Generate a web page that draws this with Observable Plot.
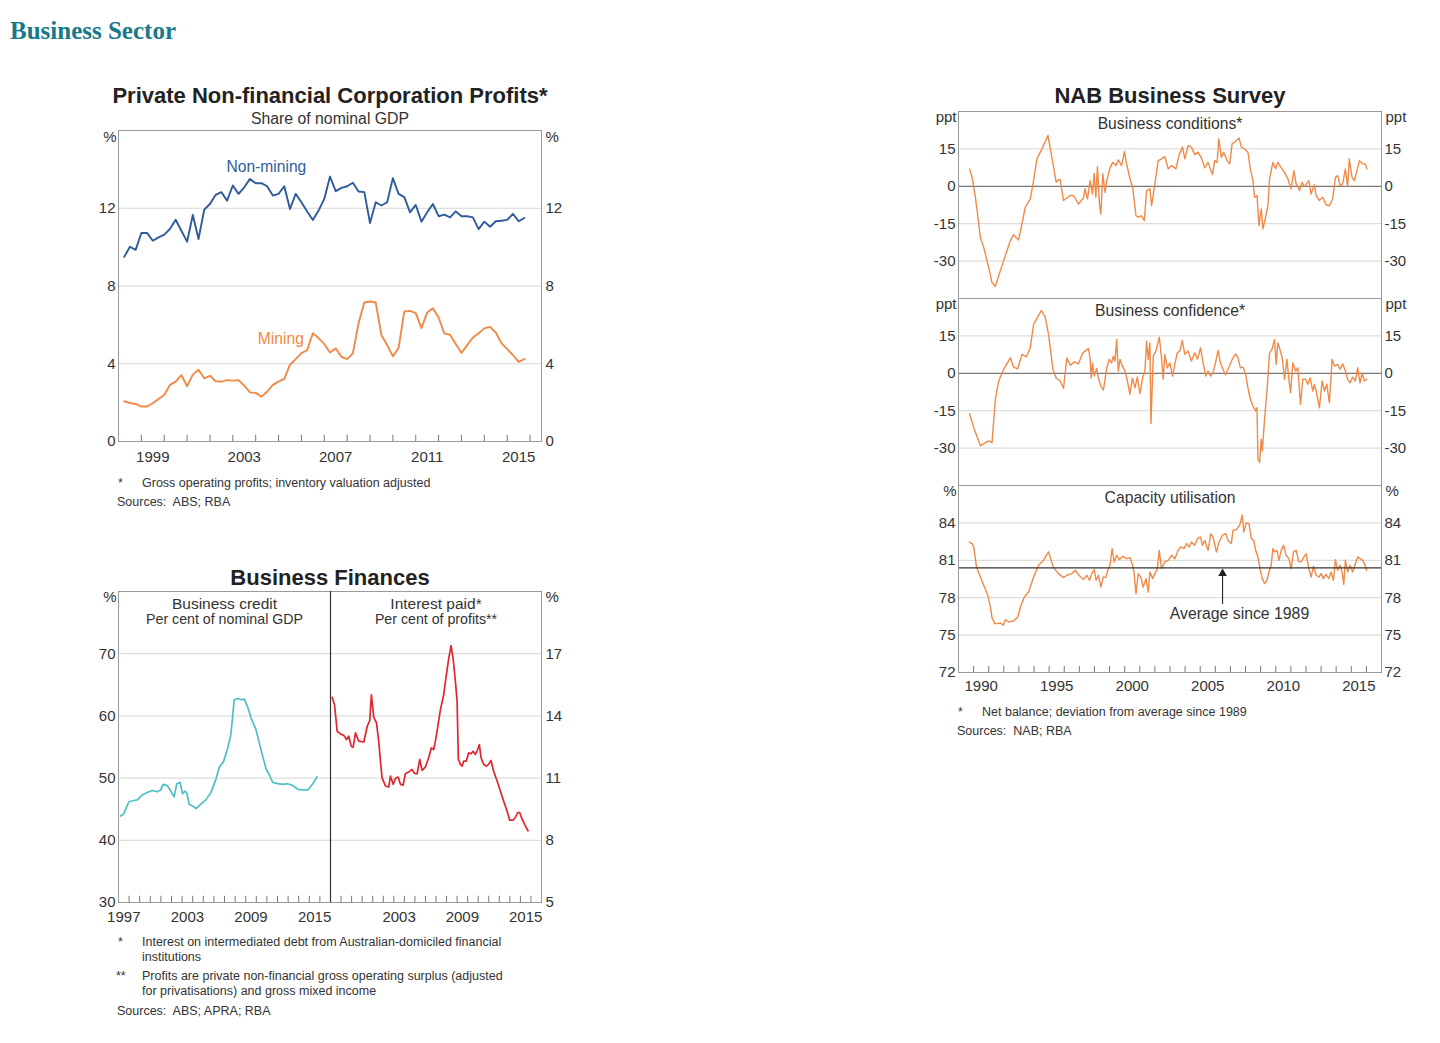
<!DOCTYPE html>
<html><head><meta charset="utf-8">
<script src="https://cdn.jsdelivr.net/npm/d3@7"></script>
<script src="https://cdn.jsdelivr.net/npm/@observablehq/plot@0.6"></script>
<style>
body{margin:0;background:#fff;width:1440px;height:1043px;position:relative;overflow:hidden;font-family:"Liberation Sans",Arial,sans-serif;color:#222;}
.abs{position:absolute;white-space:pre;line-height:1;}
.ttl{font-weight:bold;font-size:22px;text-align:center;width:600px;color:#222;}
.sub{font-size:15.8px;text-align:center;width:600px;color:#333;}
.note{font-size:12.5px;color:#333;line-height:14px;}
</style></head><body>
<div class="abs" style="left:10px;top:18px;font-family:'Liberation Serif',serif;font-weight:bold;font-size:25px;color:#17798a">Business Sector</div>
<div class="abs ttl" style="left:30px;top:85px">Private Non-financial Corporation Profits*</div>
<div class="abs sub" style="left:30px;top:111px">Share of nominal GDP</div>
<div class="abs ttl" style="left:30px;top:567px">Business Finances</div>
<div class="abs ttl" style="left:870px;top:85px">NAB Business Survey</div>
<script>
// ---------- DATA ----------
// Chart 1: quarterly, 1998 Q1 – 2015 Q3
const profitNonMining = [9.50,10.02,9.86,10.73,10.73,10.33,10.5,10.64,10.93,11.41,10.84,10.28,11.65,10.42,11.93,12.22,12.69,12.83,12.39,13.17,12.74,13.08,13.51,13.29,13.29,13.13,12.65,12.74,13.13,11.96,12.74,12.31,11.83,11.40,11.88,12.48,13.63,12.88,13.05,13.13,13.31,12.86,12.83,11.24,12.31,12.14,12.31,13.55,12.74,12.57,11.79,12.17,11.31,11.79,12.22,11.59,11.67,11.53,11.84,11.59,11.59,11.53,10.93,11.31,11.05,11.33,11.36,11.40,11.71,11.33,11.50];
const profitMining = [2.07,1.98,1.93,1.80,1.80,1.97,2.19,2.39,2.91,3.08,3.42,2.84,3.44,3.69,3.25,3.38,3.10,3.08,3.16,3.13,3.16,2.87,2.53,2.50,2.31,2.56,2.91,3.08,3.22,3.95,4.24,4.55,4.70,5.57,5.32,5.01,4.58,4.79,4.36,4.24,4.53,6.09,7.15,7.20,7.15,5.47,4.96,4.38,4.81,6.69,6.72,6.60,5.83,6.64,6.86,6.38,5.56,5.49,5.01,4.55,4.96,5.35,5.57,5.82,5.90,5.61,5.06,4.75,4.45,4.10,4.24];
const profitQuarters = profitMining.map((_, i) => 1998.25 + 0.25 * i);
const profitYearLabels = [1999, 2003, 2007, 2011, 2015];
const profitYTicks = [0, 4, 8, 12];

// Chart 2: business credit (% of GDP)
const creditYears = [1997.19,1997.50,1997.98,1998.45,1998.77,1999.24,1999.72,2000.19,2000.66,2000.98,2001.20,2001.62,2002.10,2002.25,2002.50,2002.81,2003.04,2003.26,2003.45,2003.67,2004.09,2004.30,2004.77,2005.24,2005.72,2006.19,2006.50,2006.92,2007.30,2007.61,2007.80,2007.92,2008.24,2008.60,2008.87,2009.19,2009.50,2009.97,2010.45,2010.92,2011.23,2011.55,2012.03,2012.50,2012.97,2013.45,2013.92,2014.40,2014.87,2015.34,2015.66,2015.75];
const creditValues = [43.9,44.3,46.2,46.4,46.5,47.3,47.7,48.0,47.8,48.1,49.0,48.8,47.4,47.0,49.1,49.3,47.5,47.9,47.6,45.8,45.4,45.1,45.8,46.5,47.7,49.8,51.7,52.7,54.8,57.1,60.5,62.6,62.8,62.6,62.7,61.4,59.7,57.8,54.5,51.5,50.5,49.3,49.1,49.0,49.1,48.8,48.2,48.1,48.1,49.1,50.0,50.2];
// Chart 2: interest paid (% of profits)
const interestYears = [1997.16,1997.38,1997.63,1997.95,1998.26,1998.52,1998.73,1998.96,1999.15,1999.37,1999.68,2000.16,2000.48,2000.72,2000.88,2001.10,2001.36,2001.57,2001.73,2001.89,2002.21,2002.52,2002.68,2002.94,2003.16,2003.41,2003.63,2003.88,2004.10,2004.42,2004.73,2004.95,2005.21,2005.46,2005.68,2005.99,2006.31,2006.56,2006.78,2006.94,2007.10,2007.42,2007.73,2007.98,2008.21,2008.43,2008.62,2008.84,2009.00,2009.12,2009.31,2009.47,2009.63,2009.88,2010.10,2010.32,2010.51,2010.73,2010.95,2011.11,2011.27,2011.52,2011.77,2011.99,2012.21,2012.46,2012.79,2013.10,2013.41,2013.73,2013.98,2014.30,2014.52,2014.74,2014.93,2015.16,2015.47,2015.72];
const interestValues = [14.89,14.54,13.26,13.13,13.06,12.86,13.02,12.54,12.49,13.18,12.78,12.74,13.50,13.77,15.02,13.93,13.66,12.78,11.82,11.02,10.62,10.57,11.10,10.70,10.99,11.05,10.70,10.66,11.21,11.30,11.42,11.23,11.21,11.90,11.37,11.53,11.98,12.46,12.38,12.78,13.26,14.30,15.02,15.98,16.78,17.39,16.78,15.66,14.70,11.90,11.66,11.58,11.82,11.82,12.22,12.17,12.30,12.14,12.38,12.62,11.98,11.66,11.58,11.66,11.85,11.34,10.86,10.38,9.90,9.42,8.97,8.97,9.10,9.34,9.34,9.02,8.70,8.46];
const creditYTicks = [30, 40, 50, 60, 70];
const interestYTicks = [5, 8, 11, 14, 17];
const financeLabelsLeft = [1997, 2003, 2009, 2015];
const financeLabelsRight = [2003, 2009, 2015];

// Chart 3: NAB survey
const condYears = [1989.73,1989.90,1990.12,1990.45,1990.67,1991.00,1991.22,1991.44,1991.66,1991.99,1992.43,1992.65,1992.83,1992.98,1993.20,1993.42,1993.75,1993.97,1994.19,1994.52,1994.92,1995.18,1995.47,1995.62,1995.73,1995.95,1996.39,1996.61,1996.94,1997.27,1997.38,1997.54,1997.71,1997.87,1997.98,1998.09,1998.20,1998.33,1998.42,1998.55,1998.70,1998.81,1999.03,1999.21,1999.43,1999.58,1999.80,1999.98,2000.13,2000.35,2000.53,2000.75,2000.90,2001.12,2001.30,2001.45,2001.67,2001.78,2002.00,2002.22,2002.44,2002.66,2002.88,2003.10,2003.39,2003.61,2003.83,2003.98,2004.20,2004.42,2004.64,2004.86,2005.08,2005.30,2005.52,2005.81,2005.96,2006.12,2006.23,2006.40,2006.56,2006.78,2006.95,2007.11,2007.28,2007.57,2007.72,2007.94,2008.16,2008.32,2008.49,2008.60,2008.76,2008.89,2009.04,2009.15,2009.33,2009.48,2009.59,2009.81,2009.99,2010.14,2010.36,2010.58,2010.80,2011.02,2011.20,2011.35,2011.57,2011.75,2011.90,2012.19,2012.34,2012.56,2012.67,2012.89,2013.11,2013.33,2013.55,2013.77,2013.95,2014.10,2014.26,2014.43,2014.61,2014.76,2014.87,2015.05,2015.20,2015.38,2015.54,2015.75,2015.93,2016.04];
const condValues = [7.0,3.6,-4.4,-20.5,-24.5,-32.5,-38.6,-40.2,-35.9,-29.8,-21.8,-19.4,-20.7,-21.5,-15.1,-8.4,-5.1,2.3,11.0,15.0,20.4,11.6,1.6,2.6,2.7,-5.7,-3.7,-3.7,-7.1,-4.7,-1.0,-5.1,2.3,-3.1,5.2,-4.4,7.9,-7.1,-11.1,5.0,-2.4,2.3,7.4,9.6,8.3,10.6,8.3,13.9,9.0,3.0,-0.4,-11.8,-12.4,-11.8,-13.8,-1.7,-1.0,-7.8,1.0,10.3,11.0,11.9,7.0,8.3,7.0,12.7,15.7,11.0,16.3,15.7,12.7,13.7,11.4,7.4,9.6,4.7,10.3,9.6,19.0,11.6,13.7,10.3,9.0,17.0,17.7,19.4,15.7,15.0,13.7,7.0,2.3,-4.4,-3.7,-15.8,-9.1,-17.1,-12.4,-7.8,3.0,9.6,7.0,9.6,7.4,5.6,3.0,-1.0,6.3,1.0,-1.7,1.6,-0.1,2.3,-3.1,0.7,-3.7,-5.7,-4.4,-7.4,-7.8,-5.1,3.6,4.3,0.3,1.0,7.0,-0.1,11.0,3.6,2.3,6.3,10.3,9.0,9.0,7.0];
const confYears = [1989.73,1990.01,1990.45,1990.78,1991.00,1991.22,1991.44,1991.66,1991.99,1992.43,1992.65,1992.92,1993.20,1993.49,1993.75,1993.97,1994.48,1994.74,1994.96,1995.25,1995.47,1995.73,1995.95,1996.17,1996.39,1996.68,1996.94,1997.23,1997.60,1997.71,1997.78,1997.87,1997.98,1998.15,1998.26,1998.42,1998.59,1998.81,1998.99,1999.14,1999.25,1999.36,1999.47,1999.58,1999.69,1999.80,2000.02,2000.18,2000.35,2000.51,2000.68,2000.84,2001.01,2001.19,2001.34,2001.45,2001.56,2001.67,2001.74,2001.89,2002.07,2002.29,2002.44,2002.55,2002.66,2002.82,2002.99,2003.17,2003.32,2003.48,2003.65,2003.81,2003.98,2004.20,2004.42,2004.64,2004.82,2005.02,2005.19,2005.37,2005.52,2005.68,2005.85,2006.01,2006.18,2006.34,2006.51,2006.67,2006.84,2007.02,2007.17,2007.35,2007.50,2007.66,2007.83,2008.01,2008.16,2008.32,2008.49,2008.67,2008.76,2008.82,2008.93,2009.04,2009.11,2009.26,2009.42,2009.59,2009.75,2009.92,2010.03,2010.14,2010.25,2010.43,2010.58,2010.74,2010.87,2010.98,2011.13,2011.31,2011.46,2011.64,2011.79,2011.97,2012.12,2012.28,2012.45,2012.56,2012.72,2012.89,2013.07,2013.22,2013.38,2013.55,2013.73,2013.88,2014.10,2014.26,2014.43,2014.61,2014.76,2014.92,2015.09,2015.27,2015.42,2015.58,2015.71,2015.87,2016.02];
const confValues = [-16.2,-21.8,-29.1,-27.8,-27.1,-27.8,-10.4,-3.1,1.6,6.2,2.5,1.8,7.6,6.6,10.2,19.6,25.2,22.5,15.6,1.6,-2.0,-3.1,-6.0,6.2,3.3,4.6,3.8,8.2,10.0,6.2,-2.0,4.2,-1.1,2.0,-2.0,-5.1,-6.8,2.2,5.6,4.2,6.9,4.9,13.6,0.9,5.6,3.6,0.9,-3.1,-8.4,-2.0,-5.8,-1.5,-8.2,-1.8,0.9,12.9,5.6,12.2,-20.2,6.9,8.9,14.5,6.2,-2.4,7.6,2.2,4.2,-1.1,3.6,8.2,8.9,13.2,7.6,8.9,4.9,8.2,5.6,10.2,4.2,-1.1,0.9,-1.1,0.2,4.2,9.2,4.2,1.6,-0.7,1.6,4.2,6.2,7.8,6.2,2.2,2.5,-0.4,-5.9,-10.4,-13.1,-15.1,-13.8,-34.4,-35.8,-26.4,-31.1,-18.4,-7.1,8.2,9.6,13.6,3.6,12.2,10.2,6.2,-2.4,5.6,-2.4,-7.8,4.2,0.9,2.2,-12.4,-2.4,-2.4,-4.4,-1.8,-7.1,-4.4,-8.4,-13.8,-3.1,-7.1,-4.4,-11.8,5.6,2.9,3.6,1.6,3.8,0.9,-2.4,-3.8,-1.5,-3.1,2.2,-3.8,0.0,-3.1,-2.4];
const capYears = [1989.73,1989.90,1990.01,1990.19,1990.45,1990.72,1990.94,1991.11,1991.22,1991.40,1991.55,1991.77,1991.95,1992.10,1992.32,1992.65,1992.92,1993.14,1993.36,1993.64,1993.97,1994.30,1994.63,1994.81,1994.96,1995.29,1995.62,1995.95,1996.17,1996.50,1996.72,1996.94,1997.27,1997.49,1997.67,1997.82,1997.98,1998.11,1998.26,1998.42,1998.59,1998.75,1998.88,1999.03,1999.17,1999.30,1999.47,1999.65,1999.87,2000.13,2000.35,2000.49,2000.62,2000.75,2000.90,2001.06,2001.23,2001.41,2001.56,2001.67,2001.85,2002.00,2002.16,2002.29,2002.44,2002.66,2002.88,2003.10,2003.32,2003.54,2003.72,2003.92,2004.09,2004.27,2004.42,2004.64,2004.82,2005.02,2005.15,2005.30,2005.52,2005.70,2005.85,2006.07,2006.25,2006.47,2006.69,2006.84,2007.06,2007.17,2007.39,2007.61,2007.79,2007.88,2008.05,2008.23,2008.38,2008.54,2008.67,2008.82,2008.98,2009.11,2009.26,2009.42,2009.55,2009.70,2009.81,2009.92,2010.08,2010.21,2010.36,2010.52,2010.69,2010.87,2011.02,2011.18,2011.35,2011.53,2011.68,2011.84,2012.01,2012.19,2012.34,2012.50,2012.67,2012.85,2013.00,2013.16,2013.33,2013.51,2013.66,2013.82,2013.95,2014.10,2014.26,2014.39,2014.50,2014.61,2014.76,2014.92,2015.09,2015.27,2015.42,2015.58,2015.75,2015.87,2016.02];
const capValues = [82.47,82.34,82.07,80.47,79.66,78.86,78.19,77.26,76.40,75.92,75.92,75.97,75.79,76.24,76.05,76.13,76.45,77.39,78.06,78.46,79.66,80.60,81.0,81.40,81.67,80.41,79.93,79.61,79.80,79.93,80.20,79.85,79.45,79.80,79.40,79.93,80.25,79.40,79.80,78.86,79.66,79.61,80.20,80.60,81.94,80.87,81.40,81.05,81.32,81.13,81.21,80.73,80.06,78.33,79.93,79.66,78.86,79.53,78.46,80.06,79.53,79.93,80.33,81.80,80.33,80.87,81.0,81.40,81.13,81.80,82.07,81.94,82.34,82.07,82.47,82.20,82.74,82.87,82.20,82.60,81.80,83.14,82.87,81.67,82.47,83.01,83.14,82.60,82.34,83.41,83.46,83.81,84.61,83.27,83.99,83.94,82.74,82.60,81.80,81.27,80.20,79.53,79.13,79.40,80.06,80.60,81.94,81.67,81.80,81.0,81.80,82.20,81.40,81.13,80.33,81.67,81.80,80.87,80.87,81.21,81.53,80.33,79.66,80.52,79.80,79.66,79.93,79.53,79.88,79.53,80.06,79.40,81.05,80.20,80.60,80.06,79.07,81.0,80.06,80.60,80.06,80.73,81.27,81.13,81.0,80.73,80.20];
const capAverage = 80.4;
const balanceYTicks = [-30, -15, 0, 15];
const capYTicks = [72, 75, 78, 81, 84];
const nabYearLabels = [1990, 1995, 2000, 2005, 2010, 2015];

// ---------- STYLE ----------
const FONT = "'Liberation Sans', Arial, sans-serif";
const BLUE = "#2f5b9b", ORANGE = "#f08a48", TEAL = "#4fbfc6", RED = "#e0262f";
const FRAME = "#9a9a9a", GRID = "#d6d6d6", TXT = "#333";
const TICKFONT = 15;
const style = {background: "transparent", fontFamily: FONT, fontSize: "15px", color: TXT, overflow: "visible"};

function mount(svg, left, top) {
  svg.style.position = "absolute";
  svg.style.left = left + "px";
  svg.style.top = top + "px";
  document.body.appendChild(svg);
}
function note(x, y, text) {
  const d = document.createElement("div");
  d.className = "abs note";
  d.style.left = x + "px";
  d.style.top = (y - 7) + "px";
  d.textContent = text;
  document.body.appendChild(d);
}
const unitText = (t, side, dy) => Plot.text([t], {
  text: d => d, frameAnchor: side === "left" ? "top-left" : "top-right", lineAnchor: "middle",
  textAnchor: side === "left" ? "end" : "start", dx: side === "left" ? -2 : 4, dy, fontSize: TICKFONT, fill: TXT
});
const panelTitle = (t, dy, size) => Plot.text([t], {text: d => d, frameAnchor: "top", lineAnchor: "middle", dy, fontSize: size, fill: TXT});
const yLabels = (ticks, side, pad) => Plot.axisY(ticks, {anchor: side, tickSize: 0, tickPadding: pad, label: null, fontSize: TICKFONT, tickFormat: d => String(d)});
const xLabels = (years, dy) => Plot.text(years, {x: d => d + 0.5, text: d => String(d), frameAnchor: "bottom", lineAnchor: "middle", dy, fontSize: TICKFONT, fill: TXT});

// ---------- CHART 1 ----------
const profitTable = profitQuarters.map((t, i) => ({t, nm: profitNonMining[i], m: profitMining[i]}));
mount(Plot.plot({
  width: 540, height: 360, marginLeft: 58, marginRight: 59, marginTop: 8, marginBottom: 41,
  style,
  x: {domain: [1998, 2016.5], axis: null},
  y: {domain: [0, 16]},
  marks: [
    Plot.gridY(profitYTicks.filter(d => d > 0), {stroke: GRID, strokeOpacity: 1}),
    yLabels(profitYTicks, "left", 3),
    yLabels(profitYTicks, "right", 4),
    Plot.ruleX(d3.range(1999, 2017), {y1: 0, y2: 0.32, stroke: "#777"}),
    xLabels(profitYearLabels, 16),
    Plot.line(profitTable, {x: "t", y: "nm", stroke: BLUE, strokeWidth: 1.9}),
    Plot.line(profitTable, {x: "t", y: "m", stroke: ORANGE, strokeWidth: 1.9}),
    Plot.text(["Non-mining"], {text: d => d, x: 2004.47, y: 14.1, fill: BLUE, fontSize: 15.6}),
    Plot.text(["Mining"], {text: d => d, x: 2005.1, y: 5.25, fill: ORANGE, fontSize: 15.6}),
    unitText("%", "left", 7),
    unitText("%", "right", 7),
    Plot.frame({stroke: FRAME})
  ]
}), 60, 122);
note(118, 483, "*");
note(142, 483, "Gross operating profits; inventory valuation adjusted");
note(117, 502, "Sources:  ABS; RBA");

// ---------- CHART 2 ----------
const creditTable = creditYears.map((t, i) => ({t, v: creditValues[i]}));
const interestTable = interestYears.map((t, i) => ({t, v: interestValues[i]}));
mount(Plot.plot({
  width: 275, height: 345, marginLeft: 58, marginRight: 5, marginTop: 6, marginBottom: 28,
  style,
  x: {domain: [1997, 2017], axis: null},
  y: {domain: [30, 80]},
  marks: [
    Plot.gridY(creditYTicks.filter(d => d > 30), {stroke: GRID, strokeOpacity: 1}),
    yLabels(creditYTicks, "left", 3),
    Plot.ruleX(d3.range(1998, 2017), {y1: 30, y2: 31, stroke: "#777"}),
    xLabels(financeLabelsLeft, 15),
    Plot.line(creditTable, {x: "t", y: "v", stroke: TEAL, strokeWidth: 1.7}),
    panelTitle("Business credit", 13, 15.5),
    panelTitle("Per cent of nominal GDP", 28, 14.2),
    unitText("%", "left", 6),
    Plot.frame({stroke: FRAME})
  ]
}), 60, 585);
mount(Plot.plot({
  width: 275, height: 345, marginLeft: 5, marginRight: 59, marginTop: 6, marginBottom: 28,
  style,
  x: {domain: [1997, 2017], axis: null},
  y: {domain: [5, 20]},
  marks: [
    Plot.gridY(interestYTicks.filter(d => d > 5), {stroke: GRID, strokeOpacity: 1}),
    yLabels(interestYTicks, "right", 4),
    Plot.ruleX(d3.range(1998, 2017), {y1: 5, y2: 5.3, stroke: "#777"}),
    xLabels(financeLabelsRight, 15),
    Plot.line(interestTable, {x: "t", y: "v", stroke: RED, strokeWidth: 1.7}),
    panelTitle("Interest paid*", 13, 15.5),
    panelTitle("Per cent of profits**", 28, 14.2),
    unitText("%", "right", 6),
    Plot.frame({stroke: FRAME}),
    Plot.ruleX([1997], {stroke: "#333", strokeWidth: 1.2})
  ]
}), 325, 585);
note(118, 942, "*");
note(142, 942, "Interest on intermediated debt from Australian-domiciled financial");
note(142, 957, "institutions");
note(116, 976, "**");
note(142, 976, "Profits are private non-financial gross operating surplus (adjusted");
note(142, 991, "for privatisations) and gross mixed income");
note(117, 1011, "Sources:  ABS; APRA; RBA");

// ---------- CHART 3 ----------
function balancePanel(years, values, title, top) {
  const table = years.map((t, i) => ({t, v: values[i]}));
  mount(Plot.plot({
    width: 540, height: 207, marginLeft: 58, marginRight: 59, marginTop: 10, marginBottom: 10,
    style,
    x: {domain: [1989, 2017], axis: null},
    y: {domain: [-45, 30]},
    marks: [
      Plot.gridY(balanceYTicks.filter(d => d !== 0), {stroke: GRID, strokeOpacity: 1}),
      Plot.ruleY([0], {stroke: "#777", strokeWidth: 1.2}),
      yLabels(balanceYTicks, "left", 3),
      yLabels(balanceYTicks, "right", 3),
      Plot.line(table, {x: "t", y: "v", stroke: ORANGE, strokeWidth: 1.4}),
      panelTitle(title, 12, 15.7),
      unitText("ppt", "left", 6),
      unitText("ppt", "right", 6),
      Plot.frame({stroke: FRAME})
    ]
  }), 900, top - 10);
}
balancePanel(condYears, condValues, "Business conditions*", 111);
balancePanel(confYears, confValues, "Business confidence*", 298);
const capTable = capYears.map((t, i) => ({t, v: capValues[i]}));
mount(Plot.plot({
  width: 540, height: 230, marginLeft: 58, marginRight: 59, marginTop: 10, marginBottom: 33,
  style,
  x: {domain: [1989, 2017], axis: null},
  y: {domain: [72, 87]},
  marks: [
    Plot.gridY(capYTicks.filter(d => d > 72), {stroke: GRID, strokeOpacity: 1}),
    yLabels(capYTicks, "left", 3),
    yLabels(capYTicks, "right", 3),
    Plot.ruleX(d3.range(1990, 2017), {y1: 72, y2: 72.48, stroke: "#777"}),
    xLabels(nabYearLabels, 14),
    Plot.line(capTable, {x: "t", y: "v", stroke: ORANGE, strokeWidth: 1.4}),
    Plot.ruleY([capAverage], {stroke: "#333", strokeWidth: 1.3}),
    Plot.ruleX([2006.48], {y1: 77.45, y2: 79.9, stroke: "#222", strokeWidth: 1.1}),
    Plot.dot([2006.48], {x: d => d, y: 79.95, symbol: "triangle", r: 3.2, fill: "#222", stroke: null}),
    Plot.text(["Average since 1989"], {text: d => d, x: 2007.6, y: 76.67, fontSize: 15.8, fill: TXT}),
    panelTitle("Capacity utilisation", 12, 15.7),
    unitText("%", "left", 6),
    unitText("%", "right", 6),
    Plot.frame({stroke: FRAME})
  ]
}), 900, 475);
note(958, 712, "*");
note(982, 712, "Net balance; deviation from average since 1989");
note(957, 731, "Sources:  NAB; RBA");
</script>
</body></html>
